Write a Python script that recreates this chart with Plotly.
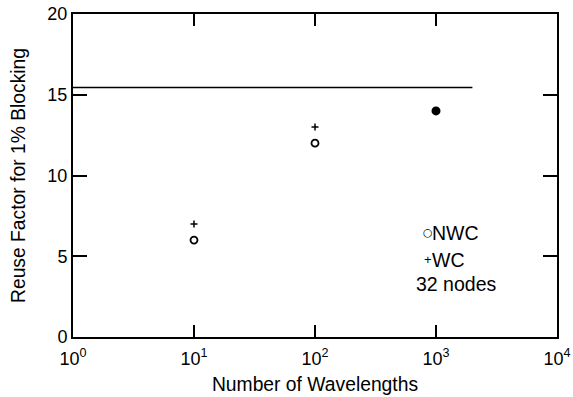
import plotly.graph_objects as go

# Data
nwc_x = [10, 100]
nwc_y = [6, 12]
wc_x = [10, 100]
wc_y = [7, 13]
both_x = [1000]
both_y = [14]
limit_x = [1, 2000]
limit_y = [15.45, 15.45]

x_tickvals = [1, 10, 100, 1000, 10000]
x_ticktext = ["10<sup>0</sup>", "10<sup>1</sup>", "10<sup>2</sup>", "10<sup>3</sup>", "10<sup>4</sup>"]
y_tickvals = [0, 5, 10, 15, 20]

font = "Liberation Sans, Arial, Helvetica, sans-serif"

fig = go.Figure()
fig.add_trace(go.Scatter(x=limit_x, y=limit_y, mode="lines",
                         line=dict(color="black", width=1.5), showlegend=False))
fig.add_trace(go.Scatter(x=nwc_x, y=nwc_y, mode="markers", name="NWC",
                         marker=dict(symbol="circle-open", size=7, color="black",
                                     line=dict(width=1.8)), showlegend=False))
fig.add_trace(go.Scatter(x=wc_x, y=wc_y, mode="markers", name="WC",
                         marker=dict(symbol="cross-thin", size=5, color="black",
                                     line=dict(width=1.5, color="black")), showlegend=False))
fig.add_trace(go.Scatter(x=both_x, y=both_y, mode="markers", name="NWC/WC",
                         marker=dict(symbol="circle", size=9, color="black"), showlegend=False))

ann_font = dict(family=font, size=19.5, color="black")
# legend symbols
fig.add_annotation(x=0.733, y=6.44, xref="paper", yref="y", xanchor="center", yanchor="middle",
                   text="○", showarrow=False, font=dict(family="DejaVu Sans", size=11, color="black"))
fig.add_annotation(x=0.733, y=4.8, xref="paper", yref="y", xanchor="center", yanchor="middle",
                   text="+", showarrow=False, font=dict(family=font, size=13, color="black"))
# legend texts
fig.add_annotation(x=0.738, y=6.44, xref="paper", yref="y", xanchor="left", yanchor="middle",
                   text="NWC", showarrow=False, font=ann_font)
fig.add_annotation(x=0.738, y=4.77, xref="paper", yref="y", xanchor="left", yanchor="middle",
                   text="WC", showarrow=False, font=ann_font)
fig.add_annotation(x=0.704, y=3.28, xref="paper", yref="y", xanchor="left", yanchor="middle",
                   text="32 nodes", showarrow=False, font=ann_font)

fig.update_xaxes(type="log", range=[0, 4], tickvals=x_tickvals, ticktext=x_ticktext,
                 ticks="inside", ticklen=12, tickwidth=1.5, tickcolor="black",
                 showline=True, linecolor="black", linewidth=2, mirror="ticks",
                 showgrid=False, zeroline=False, automargin=False, ticklabelstandoff=4,
                 tickfont=dict(family=font, size=18, color="black"),
                 title=dict(text="Number of Wavelengths", font=dict(family=font, size=19.3, color="black"),
                            standoff=10))
fig.update_yaxes(range=[0, 20], tickvals=y_tickvals,
                 ticks="inside", ticklen=14, tickwidth=1.5, tickcolor="black",
                 showline=True, linecolor="black", linewidth=2, mirror="ticks",
                 showgrid=False, zeroline=False, automargin=False,
                 tickfont=dict(family=font, size=18, color="black"),
                 title=dict(text="Reuse Factor for 1% Blocking", font=dict(family=font, size=19.3, color="black"),
                            standoff=17))

fig.update_layout(width=573, height=397, margin=dict(l=73, r=16, t=14, b=60),
                  plot_bgcolor="white", paper_bgcolor="white", showlegend=False)

fig.write_html("out.html")
